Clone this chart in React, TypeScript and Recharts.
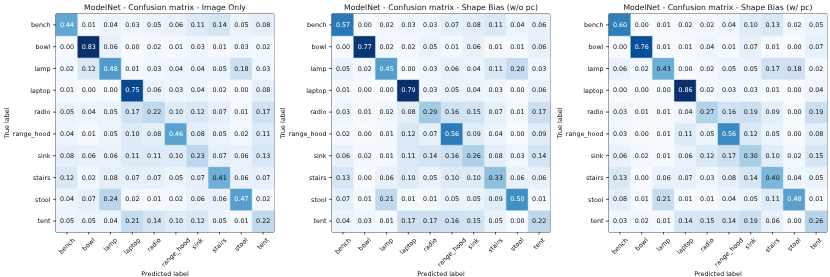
import React from 'react';
import { BarChart, Bar, XAxis, YAxis, Cell, LabelList, ReferenceArea, Label } from 'recharts';

const classLabels = ['bench', 'bowl', 'lamp', 'laptop', 'radio', 'range_hood', 'sink', 'stairs', 'stool', 'tent'];

const titles = [
  'ModelNet - Confusion matrix - Image Only',
  'ModelNet - Confusion matrix - Shape Bias (w/o pc)',
  'ModelNet - Confusion matrix - Shape Bias (w/ pc)',
];

const imageOnly = [
  [0.44, 0.01, 0.04, 0.03, 0.05, 0.06, 0.11, 0.14, 0.05, 0.08],
  [0.00, 0.83, 0.06, 0.00, 0.02, 0.01, 0.03, 0.01, 0.03, 0.02],
  [0.02, 0.12, 0.48, 0.01, 0.03, 0.04, 0.04, 0.05, 0.18, 0.03],
  [0.01, 0.00, 0.00, 0.75, 0.06, 0.03, 0.04, 0.02, 0.00, 0.08],
  [0.05, 0.04, 0.05, 0.17, 0.22, 0.10, 0.12, 0.07, 0.01, 0.17],
  [0.04, 0.01, 0.05, 0.10, 0.08, 0.46, 0.08, 0.05, 0.02, 0.11],
  [0.08, 0.06, 0.06, 0.11, 0.11, 0.10, 0.23, 0.07, 0.06, 0.13],
  [0.12, 0.02, 0.08, 0.07, 0.07, 0.05, 0.07, 0.41, 0.06, 0.07],
  [0.04, 0.07, 0.24, 0.02, 0.01, 0.02, 0.06, 0.06, 0.47, 0.02],
  [0.05, 0.05, 0.04, 0.21, 0.14, 0.10, 0.12, 0.05, 0.01, 0.22],
];

const shapeBiasNoPc = [
  [0.57, 0.00, 0.02, 0.03, 0.03, 0.07, 0.08, 0.11, 0.04, 0.06],
  [0.00, 0.77, 0.02, 0.02, 0.05, 0.01, 0.06, 0.01, 0.01, 0.06],
  [0.05, 0.02, 0.45, 0.00, 0.03, 0.06, 0.04, 0.11, 0.20, 0.03],
  [0.01, 0.00, 0.00, 0.79, 0.03, 0.05, 0.04, 0.03, 0.00, 0.06],
  [0.03, 0.01, 0.02, 0.08, 0.29, 0.16, 0.15, 0.07, 0.01, 0.17],
  [0.02, 0.00, 0.01, 0.12, 0.07, 0.56, 0.09, 0.04, 0.00, 0.09],
  [0.06, 0.02, 0.01, 0.11, 0.14, 0.16, 0.26, 0.08, 0.03, 0.14],
  [0.13, 0.00, 0.06, 0.10, 0.05, 0.10, 0.10, 0.33, 0.06, 0.06],
  [0.07, 0.01, 0.21, 0.01, 0.01, 0.05, 0.05, 0.09, 0.50, 0.01],
  [0.04, 0.03, 0.01, 0.17, 0.17, 0.16, 0.15, 0.05, 0.00, 0.22],
];

const shapeBiasPc = [
  [0.60, 0.00, 0.01, 0.02, 0.02, 0.04, 0.10, 0.13, 0.02, 0.05],
  [0.00, 0.76, 0.01, 0.01, 0.04, 0.01, 0.07, 0.01, 0.00, 0.07],
  [0.06, 0.02, 0.43, 0.00, 0.02, 0.05, 0.05, 0.17, 0.18, 0.02],
  [0.00, 0.00, 0.00, 0.86, 0.02, 0.03, 0.03, 0.01, 0.00, 0.04],
  [0.03, 0.01, 0.01, 0.04, 0.27, 0.16, 0.19, 0.09, 0.00, 0.19],
  [0.03, 0.00, 0.01, 0.11, 0.05, 0.56, 0.12, 0.05, 0.00, 0.08],
  [0.06, 0.02, 0.01, 0.06, 0.12, 0.17, 0.30, 0.10, 0.02, 0.15],
  [0.13, 0.00, 0.06, 0.07, 0.03, 0.08, 0.14, 0.40, 0.04, 0.05],
  [0.08, 0.01, 0.21, 0.01, 0.01, 0.04, 0.05, 0.11, 0.48, 0.01],
  [0.03, 0.02, 0.01, 0.14, 0.15, 0.14, 0.19, 0.06, 0.00, 0.26],
];

const BLUES = ['#f7fbff', '#deebf7', '#c6dbef', '#9ecae1', '#6baed6', '#4292c6', '#2171b5', '#08519c', '#08306b'];

function hexToRgb(h: string) {
  return [parseInt(h.slice(1, 3), 16), parseInt(h.slice(3, 5), 16), parseInt(h.slice(5, 7), 16)];
}

function blues(t: number) {
  const c = Math.max(0, Math.min(1, t));
  const s = c * 8;
  const i = Math.min(7, Math.floor(s));
  const f = s - i;
  const a = hexToRgb(BLUES[i]);
  const b = hexToRgb(BLUES[i + 1]);
  const r = a.map((v, k) => Math.round(v + (b[k] - v) * f));
  return `rgb(${r[0]},${r[1]},${r[2]})`;
}

const FONT = "'DejaVu Sans', 'Liberation Sans', sans-serif";
const FS = 6.4;
const TEXT = '#111';

let measureCtx: any = null;
function textWidth(s: string, fs: number) {
  try {
    if (!measureCtx) measureCtx = document.createElement('canvas').getContext('2d');
    measureCtx.font = `${fs}px 'DejaVu Sans'`;
    return measureCtx.measureText(s).width;
  } catch (e) {
    return s.length * fs * 0.6;
  }
}

function XTick(props: any) {
  const { x, y, payload } = props;
  const label = String(payload.value);
  const w = textWidth(label, FS);
  const h = FS * 1.164;
  const side = (w + h) * 0.7071;
  const cx = x;
  const cy = y + side / 2;
  return (
    <text
      x={cx}
      y={cy}
      textAnchor="middle"
      dominantBaseline="central"
      transform={`rotate(-45 ${cx} ${cy})`}
      fontSize={FS}
      fontFamily={FONT}
      fill={TEXT}
    >
      {label}
    </text>
  );
}

const yTicks = classLabels.map((_, i) => i + 0.5);

function Matrix({ matrix, title, left }: { matrix: number[][]; title: string; left: number }) {
  const max = Math.max(...matrix.flat());
  const data = classLabels.map((pred, j) => {
    const row: any = { pred };
    classLabels.forEach((_, i) => {
      row['u' + i] = 1;
      row['v' + i] = matrix[i][j];
    });
    return row;
  });
  const order = classLabels.map((_, i) => classLabels.length - 1 - i);
  return (
    <div style={{ position: 'absolute', left, top: 0, willChange: 'transform' }}>
      <BarChart
        width={275}
        height={277}
        data={data}
        margin={{ top: 14, right: 1, bottom: 0, left: 0 }}
        barCategoryGap={0}
        barGap={0}
      >
        <XAxis
          dataKey="pred"
          interval={0}
          height={45}
          tickSize={2.5}
          tickMargin={2}
          tick={<XTick />}
          axisLine={false}
          tickLine={{ stroke: TEXT, strokeWidth: 0.7 }}
        >
          <Label
            content={(p: any) => {
              const vb = p.viewBox;
              return (
                <text x={vb.x + vb.width / 2} y={vb.y + 44} textAnchor="middle" fontSize={FS} fontFamily={FONT} fill={TEXT}>
                  Predicted label
                </text>
              );
            }}
          />
        </XAxis>
        <YAxis
          type="number"
          domain={[0, 10]}
          ticks={yTicks}
          tickFormatter={(v: number) => classLabels[classLabels.length - 1 - Math.floor(v)]}
          width={56}
          tickSize={3}
          tickMargin={2.5}
          axisLine={false}
          tickLine={{ stroke: TEXT, strokeWidth: 0.7 }}
          tick={{ fontSize: FS, fill: TEXT, fontFamily: FONT }}
        >
          <Label
            content={(p: any) => {
              const vb = p.viewBox;
              const cx = vb.x + 7;
              const cy = vb.y + vb.height / 2;
              return (
                <text
                  x={cx}
                  y={cy}
                  textAnchor="middle"
                  dominantBaseline="central"
                  transform={`rotate(-90 ${cx} ${cy})`}
                  fontSize={FS}
                  fontFamily={FONT}
                  fill={TEXT}
                >
                  True label
                </text>
              );
            }}
          />
        </YAxis>
        {order.map((i) => (
          <Bar key={i} dataKey={'u' + i} stackId="m" isAnimationActive={false}>
            {data.map((d, j) => {
              const c = blues(matrix[i][j] / max);
              return <Cell key={j} fill={c} stroke={c} strokeWidth={0.5} />;
            })}
            <LabelList
              dataKey={'v' + i}
              content={(p: any) => {
                const x = p.x ?? p.viewBox?.x;
                const y = p.y ?? p.viewBox?.y;
                const w = p.width ?? p.viewBox?.width;
                const h = p.height ?? p.viewBox?.height;
                const v = Number(p.value);
                return (
                  <text
                    x={x + w / 2}
                    y={y + h / 2}
                    textAnchor="middle"
                    dominantBaseline="central"
                    fontSize={FS}
                    fontFamily={FONT}
                    fill={v > max / 2 ? '#ffffff' : TEXT}
                  >
                    {v.toFixed(2)}
                  </text>
                );
              }}
            />
          </Bar>
        ))}
        <ReferenceArea
          y1={0}
          y2={10}
          fill="none"
          fillOpacity={0}
          stroke="#111"
          strokeWidth={1}
          ifOverflow="visible"
          label={(p: any) => {
            const vb = p.viewBox;
            return (
              <text x={vb.x + vb.width / 2} y={vb.y - 4} textAnchor="middle" fontSize={7.7} fontFamily={FONT} fill={TEXT}>
                {title}
              </text>
            );
          }}
        />
      </BarChart>
    </div>
  );
}

export default function App() {
  return (
    <div style={{ position: 'absolute', left: 0, top: 0, width: 830, height: 277, background: '#fff', overflow: 'hidden' }}>
      <Matrix matrix={imageOnly} title={titles[0]} left={0} />
      <Matrix matrix={shapeBiasNoPc} title={titles[1]} left={276} />
      <Matrix matrix={shapeBiasPc} title={titles[2]} left={553} />
    </div>
  );
}
